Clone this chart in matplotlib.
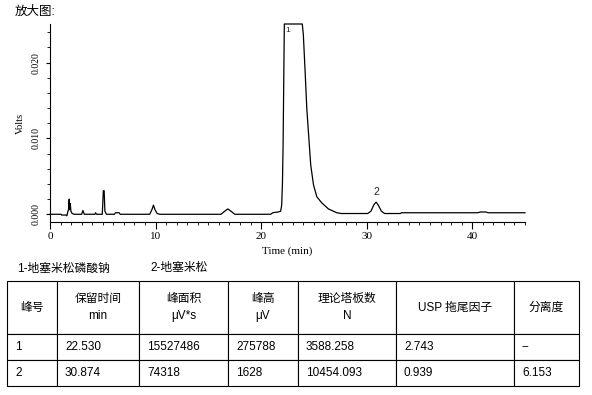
import matplotlib
matplotlib.use("Agg")
import matplotlib.pyplot as plt
from matplotlib.ticker import MultipleLocator, FormatStrFormatter

plt.rcParams["font.family"] = ["Liberation Sans", "Noto Sans CJK SC"]

W, H = 592, 395

# chromatogram trace (min, V); peak 1 is cut flat by the display
time_min = [0.0, 1.05, 1.1, 1.5, 1.6, 1.68, 1.75, 1.82, 1.86, 1.92, 1.98, 2.1, 2.3,
            3.0, 3.12, 3.25, 4.25, 4.32, 4.4, 4.95, 5.0, 5.05, 5.13, 5.2, 5.35,
            6.1, 6.2, 6.55, 6.65, 9.45, 9.65, 9.8, 9.95, 10.15, 10.4,
            16.2, 16.55, 16.85, 17.15, 17.5, 20.9, 21.1, 21.6, 21.85, 21.95, 22.02, 22.08,
            22.2, 23.9, 24.0, 24.17, 24.33, 24.5, 24.7, 24.96, 25.28, 25.75, 26.38, 27.17,
            27.6, 30.1, 30.4, 30.7, 30.9, 31.1, 31.4, 31.7, 33.2, 33.3, 36.0,
            40.5, 40.8, 41.3, 41.5, 45.0]
volts = [0.0, 0.0, -0.0001, -0.0001, -0.0002, 0.0003, 0.0006, 0.0020, 0.0006, 0.0014, 0.0004, 0.0001, 0.0,
         0.0, 0.0005, 0.0, 0.0, 0.0002, 0.0, 0.0, 0.0014, 0.0031, 0.0031, 0.0004, 0.0,
         0.0, 0.0002, 0.0002, 0.0, 0.0, 0.0006, 0.0012, 0.0006, 0.0001, 0.0,
         0.0, 0.0004, 0.0007, 0.0004, 0.0, 0.0, 0.0002, 0.0003, 0.0004, 0.0012, 0.0040, 0.0088,
         0.0251, 0.0251, 0.0237, 0.0188, 0.0139, 0.0105, 0.0065, 0.0039, 0.0023, 0.0015, 0.0007, 0.0002,
         0.0001, 0.0001, 0.0004, 0.0013, 0.0016, 0.0012, 0.0004, 0.0001, 0.0001, 0.0002, 0.0002,
         0.0002, 0.0003, 0.0003, 0.0002, 0.0002]

# peak table
peak_no = ["1", "2"]
ret_time = ["22.530", "30.874"]
area = ["15527486", "74318"]
height = ["275788", "1628"]
plates = ["3588.258", "10454.093"]
tailing = ["2.743", "0.939"]
resolution = ["--", "6.153"]
headers = ["峰号", "保留时间\nmin", "峰面积\nμV*s", "峰高\nμV", "理论塔板数\nN", "USP 拖尾因子", "分离度"]
peak_names = ["1-地塞米松磷酸钠", "2-地塞米松"]
label_y = [0.0247, 0.0029]

fig = plt.figure(figsize=(W / 100, H / 100), dpi=100)
fig.text(15 / W, 1 - 12 / H, "放大图:", fontsize=9, ha="left", va="center")

# ---- chromatogram ----
ax = fig.add_axes([50 / W, 1 - 222 / H, 475 / W, 198 / H])
ax.plot(time_min, volts, color="black", lw=0.9, clip_on=False)
for i, p in enumerate(peak_no):
    ax.text(float(ret_time[i]), label_y[i], p, fontsize=7.5 if i else 6,
            ha="center", va="top" if i == 0 else "center", color="#222")
ax.set_xlim(0, 45)
ax.set_ylim(-0.00102, 0.0251)
ax.xaxis.set_major_locator(MultipleLocator(10))
ax.xaxis.set_minor_locator(MultipleLocator(1))
ax.yaxis.set_major_locator(MultipleLocator(0.01))
ax.yaxis.set_minor_locator(MultipleLocator(0.002))
ax.yaxis.set_major_formatter(FormatStrFormatter("%.3f"))
ax.spines[["top", "right"]].set_visible(False)
for s in ["left", "bottom"]:
    ax.spines[s].set_linewidth(0.8)
ax.tick_params(labelfontfamily="Liberation Serif", width=0.8)
ax.tick_params(axis="x", which="major", length=5, pad=2, labelsize=8)
ax.tick_params(axis="x", which="minor", length=2.2)
ax.tick_params(axis="y", which="major", length=3, labelsize=7, labelrotation=90)
ax.tick_params(axis="y", which="minor", length=2.2)
for lab in ax.get_yticklabels():
    lab.set_verticalalignment("center")
ax.set_xlabel("Time (min)", fontfamily="Liberation Serif", fontsize=8, labelpad=4)
ax.set_ylabel("Volts", fontfamily="Liberation Serif", fontsize=7.5, labelpad=5)

# ---- peak names ----
fig.text(17 / W, 1 - 268.5 / H, peak_names[0], fontsize=8.5, ha="left", va="center")
fig.text(150 / W, 1 - 268.5 / H, peak_names[1], fontsize=8.5, ha="left", va="center")

# ---- table ----
col_px = [50, 82, 89, 70, 98, 118, 65]
cells = [list(r) for r in zip(peak_no, ret_time, area, height, plates, tailing, resolution)]
tax = fig.add_axes([7 / W, 1 - 386 / H, 572 / W, 105 / H])
tax.axis("off")
tbl = tax.table(cellText=cells, colLabels=headers, cellLoc="left", colLoc="center",
                colWidths=[c / sum(col_px) for c in col_px], bbox=[0, 0, 1, 1])
tbl.auto_set_font_size(False)
for (r, c), cell in tbl.get_celld().items():
    cell.set_linewidth(0.8)
    cell.set_edgecolor("black")
    txt = cell.get_text()
    txt.set_fontsize(8.5)
    if r == 0:
        cell.set_height(cell.get_height() * 2.04)
        txt.set_linespacing(1.6)
    else:
        cell.PAD = 8 / col_px[c]

fig.savefig("out.png", dpi=100)
